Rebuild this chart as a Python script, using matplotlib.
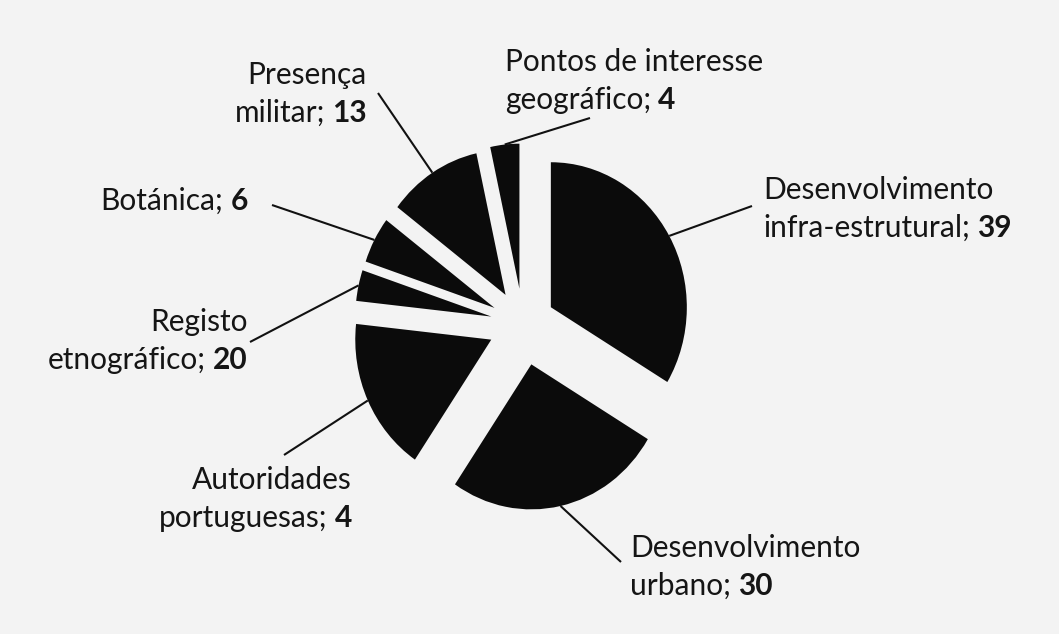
import numpy as np
import matplotlib
matplotlib.use("Agg")
import matplotlib.pyplot as plt

# ---- data (wedge order, clockwise from the top) ----
categories = ["Pontos de interesse geográfico", "Desenvolvimento infra-estrutural",
              "Desenvolvimento urbano", "Registo etnográfico", "Autoridades portuguesas",
              "Botánica", "Presença militar"]
values = [4, 39, 30, 20, 4, 6, 13]
label_lines = [["Pontos de interesse", "geográfico;"],
               ["Desenvolvimento", "infra-estrutural;"],
               ["Desenvolvimento", "urbano;"],
               ["Registo", "etnográfico;"],
               ["Autoridades", "portuguesas;"],
               ["Botánica;"],
               ["Presença", "militar;"]]
label_values = ["4", "39", "30", "20", "4", "6", "13"]

# ---- style / layout ----
W, H = 1059, 634
BG = "#f3f3f3"
FONT = "Lato"
FS = 21.5
explode = [0.245, 0.235, 0.285, 0.257, 0.238, 0.237, 0.238]
start_angle = 102.4
cx, cy = 523, 324          # pie centre (pixels, from top-left)
rx, ry = 136, 145          # radii in pixels (scan is slightly stretched)
# label anchor (pixels), alignment, and wedge each leader line points to
label_pos = [(505, 62), (763, 190), (630, 548), (248, 322), (352, 480), (248, 201), (367, 75)]
label_ha = ["left", "left", "left", "right", "right", "right", "right"]
line_start = [(590, 118), (752, 206), (621, 562), (250, 342), (284, 455), (272, 205), (378, 93)]
line_to = [0, 1, 2, 4, 3, 5, 6]
line_spacing = 38

fig = plt.figure(figsize=(W / 100, H / 100), dpi=100, facecolor=BG)
ax_bg = fig.add_axes([0, 0, 1, 1])
ax_bg.set_xlim(0, W)
ax_bg.set_ylim(H, 0)
ax_bg.axis("off")

ax_pie = fig.add_axes([0, 0, 1, 1])
ax_pie.patch.set_alpha(0)
wedges, _ = ax_pie.pie(values, explode=explode, startangle=start_angle, counterclock=False,
                       colors=["#0b0b0b"] * len(values),
                       wedgeprops=dict(linewidth=0))
ax_pie.set_aspect("auto")
ax_pie.set_xlim(-cx / rx, (W - cx) / rx)
ax_pie.set_ylim(-(H - cy) / ry, cy / ry)
ax_pie.axis("off")

# leader lines: from the label to the outer arc at each wedge's mid-angle
for i, (sx, sy) in enumerate(line_start):
    w = wedges[line_to[i]]
    mid = np.deg2rad((w.theta1 + w.theta2) / 2)
    px, py = w.center[0] + w.r * np.cos(mid), w.center[1] + w.r * np.sin(mid)
    disp = ax_pie.transData.transform((px, py))
    ex, ey = ax_bg.transData.inverted().transform(disp)
    ax_bg.plot([sx, ex], [sy, ey], color="#111111", lw=1.5, solid_capstyle="butt")

# labels: normal text + bold value
renderer = fig.canvas.get_renderer()
inv = ax_bg.transData.inverted()
gap = FS * 100 / 72 * 0.24
for i, lines in enumerate(label_lines):
    x, y = label_pos[i]
    ha = label_ha[i]
    for j, line in enumerate(lines):
        yy = y + j * line_spacing
        last = j == len(lines) - 1
        if not last:
            ax_bg.text(x, yy, line, ha=ha, va="center", fontsize=FS, family=FONT, color="#151515")
            continue
        if ha == "left":
            t = ax_bg.text(x, yy, line, ha="left", va="center", fontsize=FS, family=FONT, color="#151515")
            bb = t.get_window_extent(renderer)
            x1 = inv.transform((bb.x1, 0))[0]
            ax_bg.text(x1 + gap, yy, label_values[i], ha="left", va="center", fontsize=FS,
                       family=FONT, fontweight="bold", color="#151515")
        else:
            tb = ax_bg.text(x, yy, label_values[i], ha="right", va="center", fontsize=FS,
                            family=FONT, fontweight="bold", color="#151515")
            bb = tb.get_window_extent(renderer)
            x0 = inv.transform((bb.x0, 0))[0]
            ax_bg.text(x0 - gap, yy, line, ha="right", va="center", fontsize=FS, family=FONT,
                       color="#151515")

fig.savefig("out.png", dpi=100, facecolor=BG)
